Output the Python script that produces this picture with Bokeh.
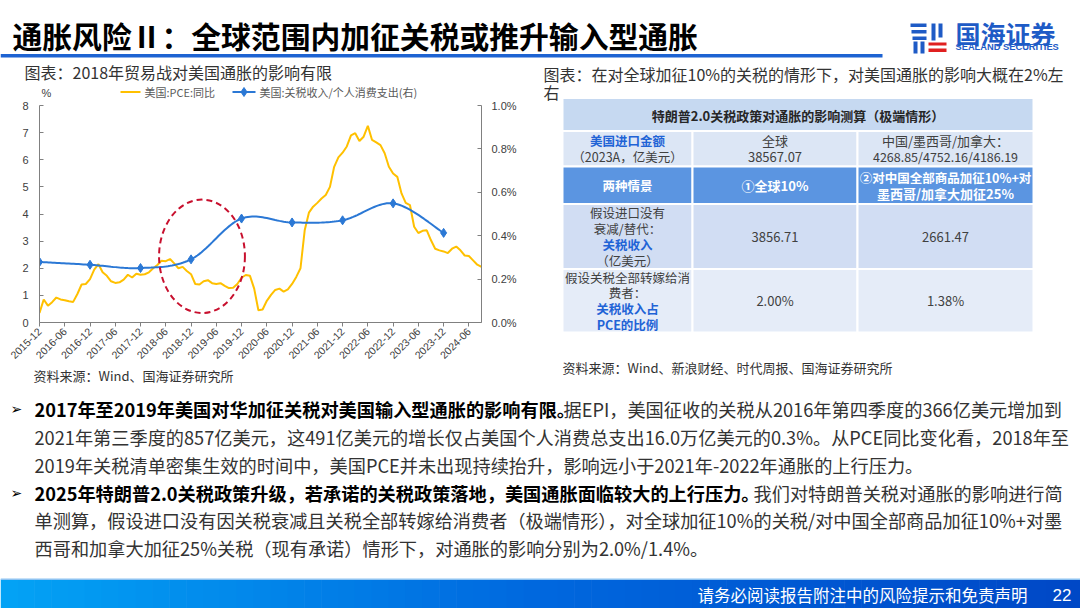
import numpy as np
import pandas as pd
from bokeh.plotting import figure
from bokeh.layouts import column, row
from bokeh.models import Range1d, LinearAxis, FixedTicker, PrintfTickFormatter
from bokeh.core.properties import value
from bokeh.embed import file_html
from bokeh.resources import INLINE

CJK = "Noto Sans CJK SC"
LAT = "Liberation Sans"

# ---------------------------------------------------------------- data
SLIDE_TITLE = "通胀风险Ⅱ：全球范围内加征关税或推升输入型通胀"
LEFT_CHART_TITLE = "图表：2018年贸易战对美国通胀的影响有限"
LEFT_SOURCE = "资料来源：Wind、国海证券研究所"
RIGHT_CHART_TITLE = ["图表：在对全球加征10%的关税的情形下，对美国通胀的影响大概在2%左", "右"]
RIGHT_SOURCE = "资料来源：Wind、新浪财经、时代周报、国海证券研究所"
LOGO_CN = "国海证券"
LOGO_EN = "SEALAND SECURITIES"
FOOTER_TEXT = "请务必阅读报告附注中的风险提示和免责声明"
PAGE_NO = "22"

PCE_NAME = "美国:PCE:同比"
TARIFF_NAME = "美国:关税收入/个人消费支出(右)"
LEFT_UNIT = "%"

PCE_FIRST_MONTH = "2015-12"
PCE_YOY = [
    0.35, 0.85, 0.62, 0.75, 0.92, 0.85, 0.82, 0.78, 0.76, 1.05, 1.40, 1.42,   # 2015-12 .. 2016-11
    1.60, 1.95, 2.15, 1.85, 1.72, 1.52, 1.46, 1.48, 1.58, 1.76, 1.66, 1.80,   # 2016-12 .. 2017-11
    1.76, 1.78, 1.85, 2.00, 2.12, 2.28, 2.26, 2.34, 2.18, 2.00, 2.05, 1.90,   # 2017-12 .. 2018-11
    1.78, 1.42, 1.40, 1.52, 1.56, 1.45, 1.42, 1.45, 1.35, 1.27, 1.28, 1.42,   # 2018-12 .. 2019-11
    1.65, 1.75, 1.72, 1.25, 0.45, 0.48, 0.80, 1.02, 1.20, 1.25, 1.14, 1.22,   # 2019-12 .. 2020-11
    1.42, 1.68, 2.00, 3.40, 4.05, 4.27, 4.41, 4.57, 4.70, 5.00, 5.74, 6.09,   # 2020-12 .. 2021-11
    6.26, 6.49, 6.90, 6.98, 6.69, 6.85, 7.25, 6.73, 6.64, 6.54, 6.24, 5.74,   # 2021-12 .. 2022-11
    5.49, 5.37, 4.76, 4.41, 4.33, 3.53, 3.30, 3.38, 3.40, 3.03, 2.72, 2.66,   # 2022-12 .. 2023-11
    2.62, 2.56, 2.72, 2.80, 2.66, 2.47, 2.45, 2.29, 2.13, 2.05,               # 2023-12 .. 2024-09
]
TARIFF_DATES = ["2015-12", "2016-12", "2017-12", "2018-12", "2019-12",
                "2020-12", "2021-12", "2022-12", "2023-12"]
TARIFF_SHARE = [0.279, 0.266, 0.251, 0.291, 0.479, 0.461, 0.471, 0.549, 0.413]

X_TICK_LABELS = ["2015-12", "2016-06", "2016-12", "2017-06", "2017-12", "2018-06",
                 "2018-12", "2019-06", "2019-12", "2020-06", "2020-12", "2021-06",
                 "2021-12", "2022-06", "2022-12", "2023-06", "2023-12", "2024-06"]
LEFT_TICKS = [0, 1, 2, 3, 4, 5, 6, 7, 8]
RIGHT_TICKS = [0.0, 0.2, 0.4, 0.6, 0.8, 1.0]

TABLE_TITLE = "特朗普2.0关税政策对通胀的影响测算（极端情形）"
TABLE_ROWS = [
    [[("美国进口金额", "blue"), ("（2023A，亿美元）", "dark")],
     [("全球", "dark"), ("38567.07", "dark")],
     [("中国/墨西哥/加拿大：", "dark"), ("4268.85/4752.16/4186.19", "dark")]],
    [[("两种情景", "white")],
     [("①全球10%", "white")],
     [("②对中国全部商品加征10%+对", "white"), ("墨西哥/加拿大加征25%", "white")]],
    [[("假设进口没有", "dark"), ("衰减/替代：", "dark"), ("关税收入", "blue"), ("（亿美元）", "dark")],
     [("3856.71", "dark")],
     [("2661.47", "dark")]],
    [[("假设关税全部转嫁给消", "dark"), ("费者：", "dark"), ("关税收入占", "blue"), ("PCE的比例", "blue")],
     [("2.00%", "dark")],
     [("1.38%", "dark")]],
]

BODY_LINES = [
    ("2017年至2019年美国对华加征关税对美国输入型通胀的影响有限。",
     "据EPI，美国征收的关税从2016年第四季度的366亿美元增加到"),
    ("", "2021年第三季度的857亿美元，这491亿美元的增长仅占美国个人消费总支出16.0万亿美元的0.3%。从PCE同比变化看，2018年至"),
    ("", "2019年关税清单密集生效的时间中，美国PCE并未出现持续抬升，影响远小于2021年-2022年通胀的上行压力。"),
    ("2025年特朗普2.0关税政策升级，若承诺的关税政策落地，美国通胀面临较大的上行压力。",
     "我们对特朗普关税对通胀的影响进行简"),
    ("", "单测算，假设进口没有因关税衰减且关税全部转嫁给消费者（极端情形），对全球加征10%的关税/对中国全部商品加征10%+对墨"),
    ("", "西哥和加拿大加征25%关税（现有承诺）情形下，对通胀的影响分别为2.0%/1.4%。"),
]

# ---------------------------------------------------------------- styles / geometry
YELLOW = "#FFC000"
BLUE = "#2B78D5"
RED = "#C8102E"
DARK = "#333333"
TOP_H = 60            # slide header band
LEFT_TOP_BOT = 99     # bottom of the chart-title / legend band
CHART_BOT = 365       # bottom of the chart figure
ROW_BOT = 385         # bottom of the chart / table row


def canvas(w, h, x0, y0):
    f = figure(width=w, height=h, x_range=Range1d(x0, x0 + w), y_range=Range1d(y0 + h, y0),
               output_backend="svg", toolbar_location=None, x_axis_type=None, y_axis_type=None,
               min_border=0, min_border_left=0, min_border_right=0, min_border_top=0,
               min_border_bottom=0)
    f.outline_line_color = None
    f.background_fill_color = "white"
    f.border_fill_color = "white"
    return f


def txt(f, x, y, s, size, color=DARK, font=CJK, bold=False, align="left", baseline="middle"):
    f.text(x=[x], y=[y], text=[s], text_font=value(font), text_font_size=value(f"{size}px"),
           text_color=color, text_align=align, text_baseline=baseline,
           text_font_style="bold" if bold else "normal")


def box(f, l, r, t, b, color, line_color=None, line_width=1):
    f.quad(left=[l], right=[r], top=[t], bottom=[b], fill_color=color,
           line_color=line_color, line_width=line_width)


# ---------------------------------------------------------------- slide header
top = canvas(1080, TOP_H, 0, 0)
txt(top, 12, 34, SLIDE_TITLE, 29.8, color="#000000", bold=True)
box(top, 0, 882, 53.5, 57, "#1D63D2")
for (l, r, t, b) in [(910, 926, 23, 26.5), (911, 926, 29.5, 33), (912, 926, 36, 39.5),
                     (913, 917, 41, 53), (920, 924, 41, 53), (931, 935, 23, 40), (938, 942, 23, 37)]:
    box(top, l, r, t, b, "#1E5BC6")
for (l, r, t, b) in [(928, 946, 42, 45), (928, 946, 48, 51.5)]:
    box(top, l, r, t, b, "#E02020")
txt(top, 955, 32, LOGO_CN, 25, color="#1E5BC6", bold=True)
txt(top, 955, 46.5, LOGO_EN, 9.3, color="#1E5BC6", font=LAT, bold=True)

# ---------------------------------------------------------------- chart title + legend band
left_top = canvas(540, LEFT_TOP_BOT - TOP_H, 0, TOP_H)
txt(left_top, 24, 71, LEFT_CHART_TITLE, 16)
txt(left_top, 41, 92, LEFT_UNIT, 11, color="#404040", font=LAT)
LEG_Y = 91.5
left_top.line([120, 140], [LEG_Y, LEG_Y], line_color=YELLOW, line_width=2)
txt(left_top, 144, LEG_Y, PCE_NAME, 11, color="#595959")
left_top.line([232, 255], [LEG_Y, LEG_Y], line_color=BLUE, line_width=2)
left_top.scatter([243.5], [LEG_Y], marker="diamond", size=9, fill_color=BLUE, line_color=BLUE)
txt(left_top, 259, LEG_Y, TARIFF_NAME, 11, color="#595959")

# ---------------------------------------------------------------- chart
FL, FR, FT, FB = 39, 481, 105, 322          # plot frame in slide pixels
months = pd.period_range(PCE_FIRST_MONTH, periods=len(PCE_YOY), freq="M").strftime("%Y-%m").tolist()
x_pce = list(range(len(PCE_YOY)))
x_tar = [months.index(d) for d in TARIFF_DATES]
tick_pos = [months.index(t) for t in X_TICK_LABELS]
XMAX = len(PCE_YOY) - 1

chart = figure(width=540, height=CHART_BOT - LEFT_TOP_BOT, x_range=Range1d(0, XMAX),
               y_range=Range1d(0, 8), output_backend="svg", toolbar_location=None, title=None,
               min_border_left=FL, min_border_right=540 - FR,
               min_border_top=FT - LEFT_TOP_BOT, min_border_bottom=CHART_BOT - FB)
chart.extra_y_ranges = {"r": Range1d(0, 1.0)}
chart.xgrid.visible = False
chart.ygrid.visible = False
chart.outline_line_color = None
chart.background_fill_color = "white"
chart.border_fill_color = "white"

xa = chart.xaxis[0]
xa.ticker = FixedTicker(ticks=tick_pos)
xa.major_label_overrides = {int(t): lab for t, lab in zip(tick_pos, X_TICK_LABELS)}
xa.major_label_orientation = np.pi / 4
xa.major_tick_in = 0
xa.major_tick_out = 4
xa.major_label_standoff = 3
xa.major_label_text_font_size = "10.5px"

ya = chart.yaxis[0]
ya.ticker = FixedTicker(ticks=LEFT_TICKS)
ya.major_tick_in = 4
ya.major_tick_out = 0
ya.major_label_standoff = 11

ra = LinearAxis(y_range_name="r", ticker=FixedTicker(ticks=RIGHT_TICKS),
                formatter=PrintfTickFormatter(format="%.1f%%"))
ra.major_tick_in = 4
ra.major_tick_out = 0
ra.major_label_standoff = 10
chart.add_layout(ra, "right")

for ax in (xa, ya, ra):
    ax.axis_line_color = "#808080"
    ax.major_tick_line_color = "#808080"
    ax.minor_tick_line_color = None
    ax.major_label_text_font = LAT
    ax.major_label_text_color = "#404040"
for ax in (ya, ra):
    ax.major_label_text_font_size = "11px"


def catmull(xs, ys, n=24):
    P = list(zip(xs, ys))
    P = [P[0]] + P + [P[-1]]
    ox, oy = [], []
    for i in range(1, len(P) - 2):
        p0, p1, p2, p3 = [np.array(p, float) for p in P[i - 1:i + 3]]
        for t in np.linspace(0, 1, n, endpoint=False):
            pt = 0.5 * (2 * p1 + (-p0 + p2) * t + (2 * p0 - 5 * p1 + 4 * p2 - p3) * t * t
                        + (-p0 + 3 * p1 - 3 * p2 + p3) * t ** 3)
            ox.append(pt[0])
            oy.append(pt[1])
    ox.append(xs[-1])
    oy.append(ys[-1])
    return ox, oy


chart.line(x_pce, PCE_YOY, line_color=YELLOW, line_width=2)
sx_, sy_ = catmull(x_tar, TARIFF_SHARE)
chart.line(sx_, sy_, line_color=BLUE, line_width=2, y_range_name="r")
chart.scatter(x_tar, TARIFF_SHARE, marker="diamond", size=9, fill_color=BLUE,
              line_color=BLUE, y_range_name="r")

# dashed ellipse highlighting the 2018-2019 tariff period
ELL_CENTER_MONTH, ELL_CENTER_VAL, ELL_W_MONTHS, ELL_H_VAL = 38.6, 2.44, 20.4, 4.18
chart.ellipse(x=[ELL_CENTER_MONTH], y=[ELL_CENTER_VAL], width=[ELL_W_MONTHS], height=[ELL_H_VAL],
              fill_alpha=0, line_color=RED, line_width=2, line_dash="6 4")

# ---------------------------------------------------------------- chart source band
left_bot = canvas(540, ROW_BOT - CHART_BOT, 0, CHART_BOT)
txt(left_bot, 33, 375, LEFT_SOURCE, 13)

# ---------------------------------------------------------------- table panel
tbl = canvas(540, ROW_BOT - TOP_H, 540, TOP_H)
txt(tbl, 543, 73, RIGHT_CHART_TITLE[0], 16)
txt(tbl, 543, 91, RIGHT_CHART_TITLE[1], 16)
TBL_X = [562, 692, 857, 1033]
TBL_Y = [97.5, 130.5, 166, 203.5, 268.5, 332]
ROW_FILL = ["#C6D9F1", "#DCE6F5", "#5B95E1", "#D1DDF3", "#E5ECF8"]
COLORS = {"dark": "#404040", "blue": "#1F63D6", "white": "#FFFFFF"}

box(tbl, TBL_X[0], TBL_X[-1], TBL_Y[0], TBL_Y[1], ROW_FILL[0], "white", 2)
txt(tbl, (TBL_X[0] + TBL_X[-1]) / 2, (TBL_Y[0] + TBL_Y[1]) / 2 + 0.5, TABLE_TITLE, 13,
    color="#262626", bold=True, align="center")
for ri, cells in enumerate(TABLE_ROWS):
    t_, b_ = TBL_Y[ri + 1], TBL_Y[ri + 2]
    for ci, lines in enumerate(cells):
        l, r = TBL_X[ci], TBL_X[ci + 1]
        box(tbl, l, r, t_, b_, ROW_FILL[ri + 1], "white", 2)
        n = len(lines)
        cy = (t_ + b_) / 2
        step = 15.8
        for li, (s, kind) in enumerate(lines):
            yy = cy + (li - (n - 1) / 2) * step
            size = 12.5 if (ci == 0 or len(s) > 14) else 13
            txt(tbl, (l + r) / 2, yy, s, size, color=COLORS[kind],
                bold=(kind != "dark"), align="center")
txt(tbl, 562, 367, RIGHT_SOURCE, 13)

# ---------------------------------------------------------------- body text + footer
body = canvas(1080, 608 - ROW_BOT, 0, ROW_BOT)
LINE_Y = [408.5, 436.5, 464, 492, 519.5, 547]
TAIL_X = {0: 563, 3: 753}
FS = 18.2
for i, (bold_part, tail) in enumerate(BODY_LINES):
    y = LINE_Y[i]
    if bold_part:
        txt(body, 10, y, "➢", 14, color="#000000", font="DejaVu Sans")
        txt(body, 34, y, bold_part, FS, color="#000000", bold=True)
        txt(body, TAIL_X[i], y, tail, FS, color=DARK)
    else:
        txt(body, 34, y, tail, FS, color=DARK)

stops = [(0.0, (3, 163, 245)), (0.5, (0, 103, 222)), (1.0, (0, 72, 198))]


def grad(t):
    for (t0, c0), (t1, c1) in zip(stops[:-1], stops[1:]):
        if t <= t1:
            k = (t - t0) / (t1 - t0)
            return "#%02x%02x%02x" % tuple(int(round(a + (b - a) * k)) for a, b in zip(c0, c1))
    return "#%02x%02x%02x" % stops[-1][1]


NSTRIP = 64
edges = np.linspace(0, 1080, NSTRIP + 1)
body.quad(left=edges[:-1], right=edges[1:] + 0.6, top=[579] * NSTRIP, bottom=[608] * NSTRIP,
          fill_color=[grad((i + 0.5) / NSTRIP) for i in range(NSTRIP)], line_color=None)
box(body, 0, 1080, 578, 579.5, "#8EC3F2")
txt(body, 1027, 594, FOOTER_TEXT, 16.5, color="white", align="right")
txt(body, 1071, 594, PAGE_NO, 17, color="white", font=LAT, align="right")

left_col = column(column(left_top), column(chart), column(left_bot))
layout = column(top, row(left_col, column(tbl)), body)
open("out.html", "w").write(file_html(layout, INLINE))
